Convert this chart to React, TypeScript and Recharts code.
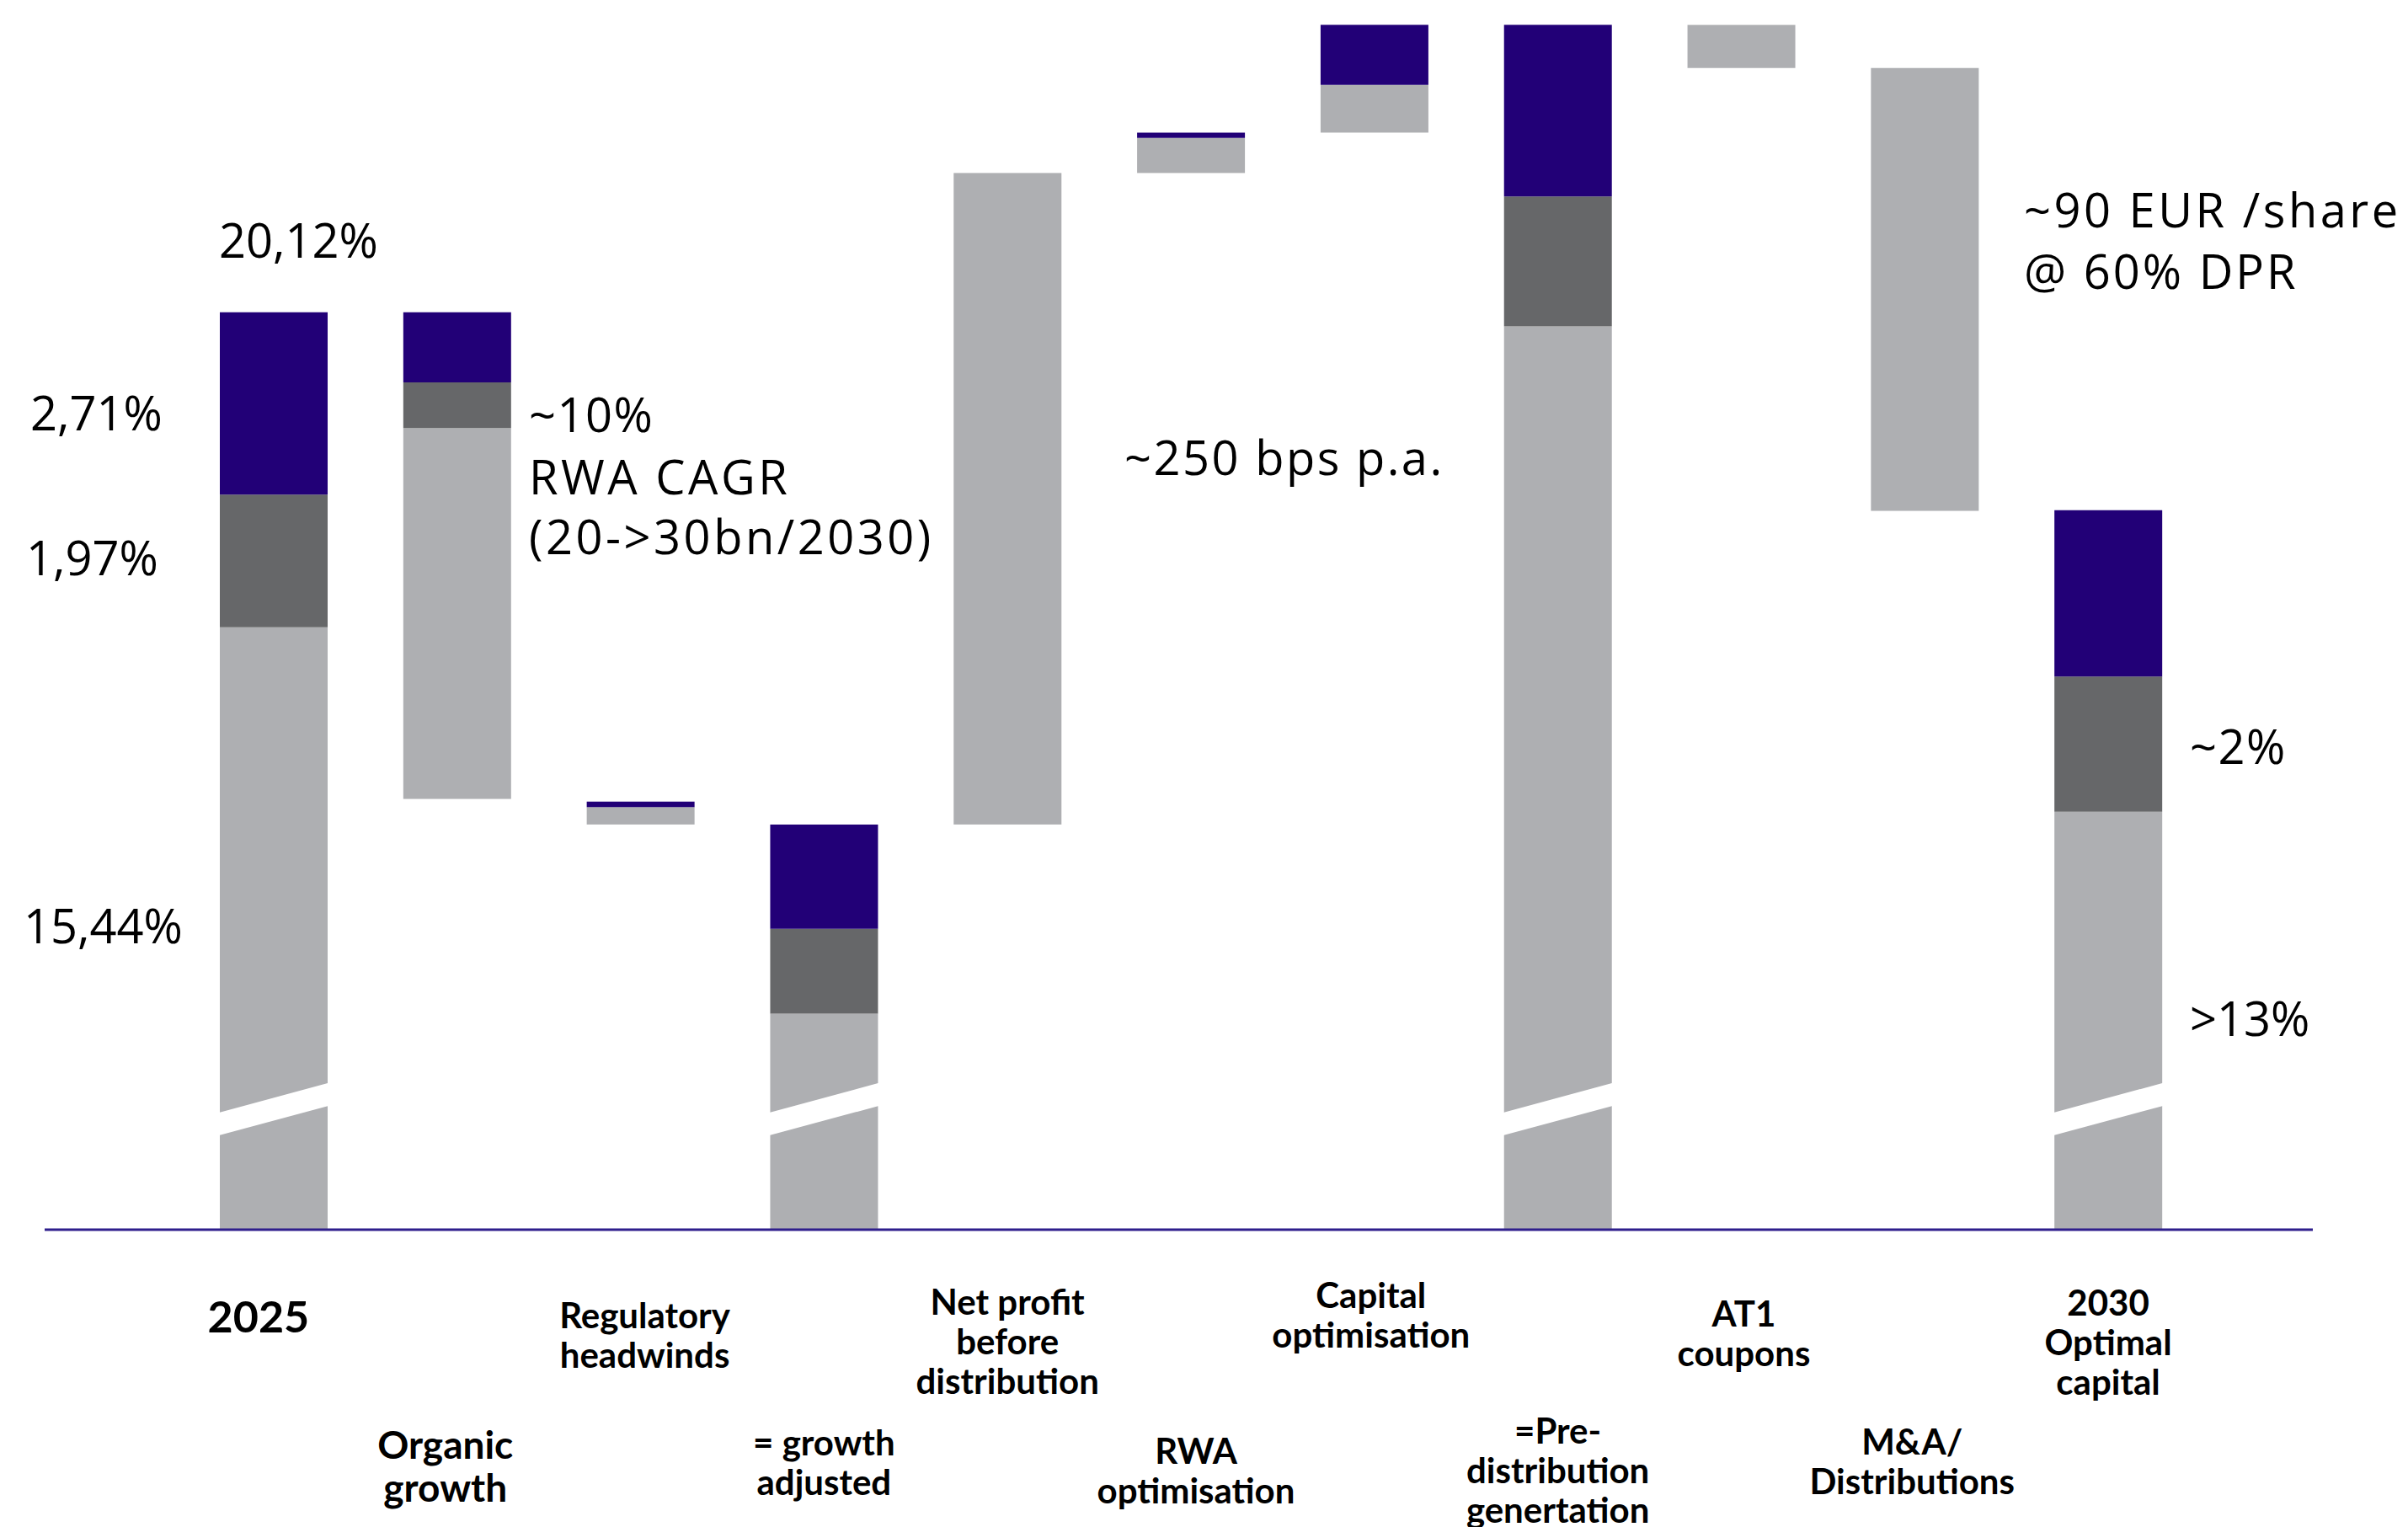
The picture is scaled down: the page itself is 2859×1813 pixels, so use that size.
import React from "react";
import { BarChart, Bar, XAxis, YAxis } from "recharts";

// Capital walk 2025 -> 2030, stacked by capital tier (values in % of RWA)
const TICK_LINES: string[][] = [
  ["2025"],
  ["Organic", "growth"],
  ["Regulatory", "headwinds"],
  ["= growth", "adjusted"],
  ["Net profit", "before", "distribution"],
  ["RWA", "optimisation"],
  ["Capital", "optimisation"],
  ["=Pre-", "distribution", "genertation"],
  ["AT1", "coupons"],
  ["M&A/", "Distributions"],
  ["2030", "Optimal", "capital"],
];
const CATEGORIES = TICK_LINES.map((l) => l.join(" "));

// invisible offset for the floating steps
const BASE = [0, 12.89, 12.51, 0, 12.51, 22.19, 22.79, 0, 23.75, 17.17, 0];
const CET1 = [15.44, 5.51, 0.26, 9.7, 9.68, 0.52, 0.71, 19.91, 0.64, 6.58, 12.7];
const AT1 = [1.97, 0.68, 0, 1.26, 0, 0, 0, 1.93, 0, 0, 2.01];
const T2 = [2.71, 1.04, 0.08, 1.55, 0, 0.08, 0.89, 2.55, 0, 0, 2.47];
const IS_TOTAL = [true, false, false, true, false, false, false, true, false, false, true];

const data = CATEGORIES.map((name, i) => ({
  name,
  base: BASE[i],
  cet1: CET1[i],
  at1: AT1[i],
  t2: T2[i],
  total: IS_TOTAL[i],
}));

const W = 2859;
const H = 1813;
const MARGIN = { top: 20, right: 113, bottom: 0, left: 53 };
const AXIS_H = 353;
const PLOT_TOP = MARGIN.top;
const PLOT_BOTTOM = H - MARGIN.bottom - AXIS_H;

// value axis is cut: it starts well above zero
const Y_MIN = 6.49;
const Y_MAX = 24.51;
const yPx = (v: number) => PLOT_TOP + ((Y_MAX - v) / (Y_MAX - Y_MIN)) * (PLOT_BOTTOM - PLOT_TOP);

// slanted gap drawn across the truncated bars (left edge / right edge)
const BREAK_LEFT = [7.89, 8.23];
const BREAK_RIGHT = [8.33, 8.67];

const PURPLE = "#220077";
const DARK = "#666769";
const LIGHT = "#AEAFB2";
const AXIS = "#2E1E8C";

const LABEL_FONT = "Lato, 'Open Sans', sans-serif";
const NOTE_FONT = "'Open Sans', Lato, sans-serif";

// tick layout: first-line baseline below the axis, horizontal nudge, size
const TICK_DY = [122, 272, 117, 268, 101, 278, 93, 254, 115, 267, 102];
const TICK_DX = [-18, -14, 5, 0, 0, 6, -4, 0, 3, -15, 0];
const TICK_SIZE = [52, 46, 42, 42, 42, 42, 42, 42, 42, 42, 42];

const pct = (v: number) => v.toFixed(2).replace(".", ",") + "%";
const total2025 = CET1[0] + AT1[0] + T2[0];

const NOTES: { text: string; x: number; y: number; ls: number }[] = [
  { text: pct(total2025), x: 260, y: 306, ls: 0 },
  { text: pct(T2[0]), x: 36, y: 511, ls: 0 },
  { text: pct(AT1[0]), x: 31, y: 683, ls: 0 },
  { text: pct(CET1[0]), x: 28, y: 1120, ls: 0 },
  { text: "~10%", x: 628, y: 513, ls: 1.5 },
  { text: "RWA CAGR", x: 628, y: 587, ls: 3.5 },
  { text: "(20->30bn/2030)", x: 628, y: 658, ls: 3.5 },
  { text: "~250 bps p.a.", x: 1335, y: 564, ls: 2.5 },
  { text: "~90 EUR /share", x: 2403, y: 270, ls: 3.5 },
  { text: "@ 60% DPR", x: 2403, y: 343, ls: 3 },
  { text: "~2%", x: 2600, y: 907, ls: 1.5 },
  { text: ">13%", x: 2600, y: 1230, ls: 0 },
];

function CategoryTick(props: any) {
  const { x, y, index } = props;
  const lines = TICK_LINES[index] || [];
  const size = TICK_SIZE[index];
  const lh = index === 1 ? 51 : 47;
  return (
    <g>
      {lines.map((line, k) => (
        <text
          key={k}
          x={x + TICK_DX[index]}
          y={y + TICK_DY[index] + k * lh}
          textAnchor="middle"
          fontFamily={LABEL_FONT}
          fontWeight={700}
          fontSize={size}
          fill="#000"
        >
          {line}
        </text>
      ))}
    </g>
  );
}

function Cet1Shape(props: any) {
  const { x, y, width, height, payload } = props;
  const bottom = Math.min(y + height, PLOT_BOTTOM);
  if (!(bottom > y)) return <g />;
  return (
    <g>
      <rect x={x} y={y} width={width} height={bottom - y} fill={LIGHT} />
      {payload && payload.total && (
        <polygon
          points={`${x - 1},${yPx(BREAK_LEFT[0])} ${x - 1},${yPx(BREAK_LEFT[1])} ${x + width + 1},${yPx(
            BREAK_RIGHT[1]
          )} ${x + width + 1},${yPx(BREAK_RIGHT[0])}`}
          fill="#ffffff"
        />
      )}
    </g>
  );
}

export default function App() {
  return (
    <div style={{ position: "absolute", left: 0, top: 0, width: W, height: H, background: "#fff" }}>
      <BarChart width={W} height={H} data={data} margin={MARGIN} barSize={128}>
        <YAxis hide type="number" domain={[Y_MIN, Y_MAX]} allowDataOverflow />
        <XAxis
          dataKey="name"
          interval={0}
          height={AXIS_H}
          padding={{ left: 163, right: 134 }}
          tickLine={false}
          tickSize={0}
          tickMargin={0}
          axisLine={{ stroke: AXIS, strokeWidth: 3 }}
          tick={<CategoryTick />}
        />
        <Bar dataKey="base" stackId="w" fill="transparent" isAnimationActive={false} />
        <Bar dataKey="cet1" stackId="w" fill={LIGHT} shape={<Cet1Shape />} isAnimationActive={false} />
        <Bar dataKey="at1" stackId="w" fill={DARK} isAnimationActive={false} />
        <Bar dataKey="t2" stackId="w" fill={PURPLE} isAnimationActive={false} />
      </BarChart>
      <svg
        width={W}
        height={H}
        style={{ position: "absolute", left: 0, top: 0, pointerEvents: "none" }}
      >
        {NOTES.map((n, i) => (
          <text
            key={i}
            x={n.x}
            y={n.y}
            fontFamily={NOTE_FONT}
            fontSize={56}
            letterSpacing={n.ls}
            fill="#000"
          >
            {n.text}
          </text>
        ))}
      </svg>
    </div>
  );
}
